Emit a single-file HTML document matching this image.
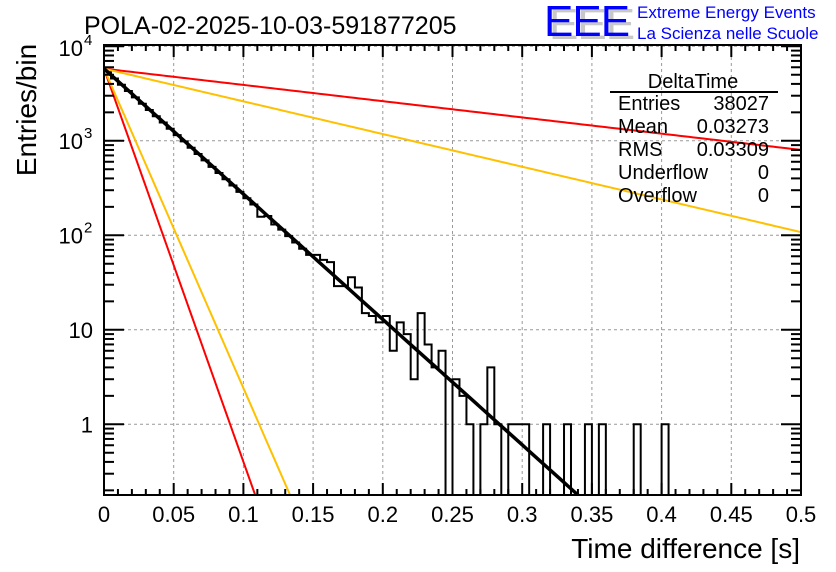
<!DOCTYPE html>
<html><head><meta charset="utf-8"><style>
html,body{margin:0;background:#fff;width:836px;height:572px;overflow:hidden;}
svg{display:block;font-family:"Liberation Sans",sans-serif;}
</style></head><body>
<svg id="c" width="836" height="572" viewBox="0 0 836 572">
<rect width="836" height="572" fill="#fff"/>
<text x="84" y="34" font-size="25">POLA-02-2025-10-03-591877205</text>
<g>
<text x="549" y="39" font-size="44" fill="#c8c8c8" letter-spacing="-1">EEE</text>
<text x="544" y="36" font-size="44" fill="#0000ff" letter-spacing="-1">EEE</text>
<text x="637" y="18" font-size="17" fill="#0000ff">Extreme Energy Events</text>
<text x="637" y="39" font-size="17" fill="#0000ff">La Scienza nelle Scuole</text>
</g>
<g id="grid"></g>
<defs><clipPath id="pc"><rect x="104" y="45" width="697" height="450"/></clipPath></defs>
<g id="marks" clip-path="url(#pc)"></g>
<g id="axes"></g>
<g font-size="20">
<text x="693" y="88" text-anchor="middle">DeltaTime</text>
<line x1="610" y1="92" x2="778" y2="92" stroke="#000" stroke-width="2"/>
<text x="618" y="110">Entries</text><text x="769" y="110" text-anchor="end">38027</text>
<text x="618" y="133">Mean</text><text x="769" y="133" text-anchor="end">0.03273</text>
<text x="618" y="156">RMS</text><text x="769" y="156" text-anchor="end">0.03309</text>
<text x="618" y="179">Underflow</text><text x="769" y="179" text-anchor="end">0</text>
<text x="618" y="202">Overflow</text><text x="769" y="202" text-anchor="end">0</text>
</g>
<text x="800" y="558" font-size="28" text-anchor="end">Time difference [s]</text>
<text transform="translate(36,110) rotate(-90)" font-size="28" text-anchor="middle">Entries/bin</text>
</svg>
<script>
const binWidth = 0.005;
const counts = [5330,4570,3920,3360,2880,2470,2120,1820,1560,1340,1150,985,845,725,620,530,457,392,336,288,247,212,157,160,130,115,98,84,72,62,
62,55,52,29,29,36,28,15,14,12,14,6,12,9,3,15,7,4,6,0,3,2,1,0,1,4,1,0,1,1,1,0,0,1,0,0,1,0,0,1,0,1,0,0,0,0,1,0,0,0,1,0,0,0,0,0,0,0,0,0,0,0,0,0,0,0,0,0,0,0];
const fitAmp = 5800, fitSlope = 13.27;
const curveAmps = [5800,5800,5800,5800];
const curveSlopes = [41.6, 33.8, 1.72, 3.46];
const curveColors = ["#ff0000","#ffc000","#ff0000","#ffc000"];
const xTicks = [0,0.05,0.1,0.15,0.2,0.25,0.3,0.35,0.4,0.45,0.5];
const xTickLabels = ["0","0.05","0.1","0.15","0.2","0.25","0.3","0.35","0.4","0.45","0.5"];

const X0=104,X1=801,Y0=45,Y1=495;
const sx = v => X0 + (X1-X0)*v/0.5;
const sy = v => v<=0 ? Y1+20 : 424.3 - 94.5*Math.log10(v);
const NS="http://www.w3.org/2000/svg";
function mk(tag, parent, attrs){const e=document.createElementNS(NS,tag);for(const k in attrs)e.setAttribute(k,attrs[k]);parent.appendChild(e);return e;}
const grid=document.getElementById('grid'), marks=document.getElementById('marks'), axes=document.getElementById('axes');
xTicks.forEach((t,i)=>{ if(i>0&&i<xTicks.length-1){const l=mk('line',grid,{x1:sx(t),x2:sx(t),y1:Y0,y2:Y1,stroke:'#999','stroke-dasharray':'3,3'});

}});
[1,10,100,1000,10000].forEach(v=>{const y=sy(v); if(y>Y0+1){const l=mk('line',grid,{x1:X0,x2:X1,y1:y,y2:y,stroke:'#999','stroke-dasharray':'3,3'});

}});
let d='M'+sx(0)+','+Y1;
counts.forEach((c,k)=>{const xa=sx(k*binWidth),xb=sx((k+1)*binWidth),y=sy(c);d+=' L'+xa+','+y+' L'+xb+','+y;});
d+=' L'+sx(0.5)+','+Y1;
const h=mk('path',marks,{d:d,fill:'none',stroke:'#000','stroke-width':2});


function curve(a,s,col,w,name){let p='';for(let i=0;i<=200;i++){const x=0.5*i/200;const v=a*Math.pow(10,-s*x);p+=(i?' L':'M')+sx(x)+','+Math.min(sy(v),Y1+30);}
const e=mk('path',marks,{d:p,fill:'none',stroke:col,'stroke-width':w});

}
curveAmps.forEach((a,i)=>curve(a,curveSlopes[i],curveColors[i],2,'exp-curve-'+i));
curve(fitAmp,fitSlope,'#000',3.5,'fit-line');
const fr=mk('rect',axes,{x:X0,y:Y0,width:X1-X0,height:Y1-Y0,fill:'none',stroke:'#000','stroke-width':2});


for(let i=0;i<=50;i++){const x=sx(i*0.01);const L=(i%5==0)?12:6;
mk('line',axes,{x1:x,x2:x,y1:Y1,y2:Y1-L,stroke:'#000','stroke-width':2});
mk('line',axes,{x1:x,x2:x,y1:Y0,y2:Y0+L,stroke:'#000','stroke-width':2});}
xTicks.forEach((t,i)=>{const e=mk('text',axes,{x:sx(t),y:522,'font-size':22,'text-anchor':'middle'});e.textContent=xTickLabels[i];

});
for(let dec=-1;dec<=4;dec++){for(let m=1;m<=9;m++){const v=m*Math.pow(10,dec);const y=sy(v);if(y<Y0||y>Y1)continue;const L=m==1?20:10;
mk('line',axes,{x1:X0,x2:X0+L,y1:y,y2:y,stroke:'#000','stroke-width':2});
mk('line',axes,{x1:X1,x2:X1-L,y1:y,y2:y,stroke:'#000','stroke-width':2});}}
const yl=[[1,'1',''],[10,'10',''],[100,'10','2'],[1000,'10','3'],[10000,'10','4']];
yl.forEach(([v,b,e])=>{const y=sy(v)+8;const t=mk('text',axes,{x:e?83:93,y:Math.max(y,56),'font-size':22,'text-anchor':'end'});t.textContent=b;


if(e){const s=mk('text',axes,{x:84,y:Math.max(y,56)-11,'font-size':15});s.textContent=e;}});
</script>
</body></html>
